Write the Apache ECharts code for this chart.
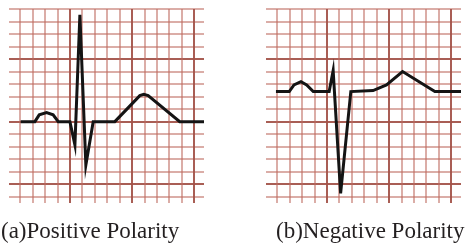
<!DOCTYPE html>
<html>
<head>
<meta charset="utf-8">
<script src="https://cdn.jsdelivr.net/npm/echarts@6/dist/echarts.min.js"></script>
<style>
  html, body { margin: 0; padding: 0; background: #fff; }
  #chart { width: 467px; height: 248px; }
</style>
</head>
<body>
<div id="chart"></div>
<script>
// ECG traces, x and y measured in small boxes of the paper grid
const POSITIVE_X = [1.06, 2.2, 2.55, 3.14, 3.67, 4.08, 5.02, 5.42, 5.82, 6.3, 6.89, 8.63, 10.64, 10.96, 11.31, 13.85, 15.8];
const POSITIVE_Y = [0, 0, 0.54, 0.72, 0.54, 0, 0, -1.86, 8.54, -3.46, 0, 0, 2.08, 2.19, 2.08, 0, 0];
const NEGATIVE_X = [0.92, 1.99, 2.37, 2.93, 3.39, 3.92, 5.2, 5.52, 6.12, 6.94, 8.73, 9.81, 11.1, 13.7, 15.8];
const NEGATIVE_Y = [2.4, 2.4, 2.94, 3.2, 2.94, 2.4, 2.4, 4.08, -5.73, 2.4, 2.48, 2.94, 4.0, 2.4, 2.4];
const CAPTIONS = ['(a)Positive Polarity', '(b)Negative Polarity'];

const X_RANGE = [0.12, 15.8];
const Y_RANGE = [-6.5, 9];
const PANEL_LEFT = [9, 266];
const CAPTION_LEFT = [1, 276];
const MINOR_COLOR = 'rgba(190, 105, 95, 0.55)';
const MAJOR_COLOR = 'rgba(160, 80, 70, 0.85)';

function toPairs(xs, ys) {
  return xs.map((x, i) => [x, ys[i]]);
}

function paperAxis(gridIndex, range, step, color, showMax) {
  return {
    type: 'value',
    gridIndex,
    min: range[0],
    max: range[1],
    minInterval: step,
    maxInterval: step,
    axisLine: { show: false },
    axisTick: { show: false },
    axisLabel: { show: false },
    splitLine: {
      show: true,
      showMinLine: false,
      showMaxLine: showMax,
      lineStyle: { color, width: 2 },
    },
  };
}

const traces = [toPairs(POSITIVE_X, POSITIVE_Y), toPairs(NEGATIVE_X, NEGATIVE_Y)];

const xAxes = [];
const yAxes = [];
PANEL_LEFT.forEach((_, g) => {
  xAxes.push(paperAxis(g, X_RANGE, 1, MINOR_COLOR, false));
  xAxes.push(paperAxis(g, X_RANGE, 5, MAJOR_COLOR, false));
  yAxes.push(paperAxis(g, Y_RANGE, 1, MINOR_COLOR, true));
  yAxes.push(paperAxis(g, Y_RANGE, 5, MAJOR_COLOR, false));
});

const chart = echarts.init(document.getElementById('chart'), null, { renderer: 'canvas' });

chart.setOption({
  animation: false,
  backgroundColor: '#fff',
  title: CAPTIONS.map((text, i) => ({
    text,
    left: CAPTION_LEFT[i],
    top: 220,
    padding: 0,
    textStyle: {
      fontFamily: 'Liberation Serif',
      fontSize: 23,
      fontWeight: 'normal',
      color: '#231f20',
    },
  })),
  grid: PANEL_LEFT.map((left) => ({
    left,
    top: 9,
    width: 195,
    height: 194,
    containLabel: false,
  })),
  xAxis: xAxes,
  yAxis: yAxes,
  series: traces.map((data, g) => ({
    type: 'line',
    xAxisIndex: g * 2,
    yAxisIndex: g * 2,
    data,
    showSymbol: false,
    smooth: false,
    clip: false,
    lineStyle: { color: '#141414', width: 3, join: 'miter' },
  })),
});
</script>
</body>
</html>
